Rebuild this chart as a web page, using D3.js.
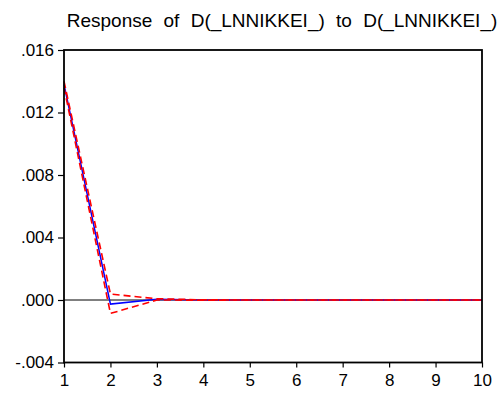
<!DOCTYPE html>
<html>
<head>
<meta charset="utf-8">
<script src="https://cdn.jsdelivr.net/npm/d3@7"></script>
<style>
  html, body { margin: 0; padding: 0; background: #fff; }
  svg { display: block; }
  text { font-family: "Liberation Sans", Arial, sans-serif; fill: #000; }
</style>
</head>
<body>
<svg id="chart" width="501" height="394"></svg>
<script>
// Impulse response of D(_LNNIKKEI_) to its own shock, with ±2 S.E. bands
const periods = [1, 2, 3, 4, 5, 6, 7, 8, 9, 10];
const response = [0.0138, -0.00026, 0.00004, 0.0, 0.0, 0.0, 0.0, 0.0, 0.0, 0.0];
const upperBand = [0.0140, 0.00038, 0.00008, 0.00001, 0.0, 0.0, 0.0, 0.0, 0.0, 0.0];
const lowerBand = [0.0136, -0.00086, 0.0, -0.00001, 0.0, 0.0, 0.0, 0.0, 0.0, 0.0];
const yTicks = [-0.004, 0.0, 0.004, 0.008, 0.012, 0.016];
const yTickLabels = ["-.004", ".000", ".004", ".008", ".012", ".016"];
const titleText = "Response of D(_LNNIKKEI_) to D(_LNNIKKEI_)";

const svg = d3.select("#chart");
const margin = { left: 64, right: 19, top: 50, bottom: 31.5 };
const W = 501, H = 394;

const x = d3.scaleLinear().domain([1, 10]).range([margin.left, W - margin.right]);
const y = d3.scaleLinear().domain([-0.004, 0.016]).range([H - margin.bottom, margin.top]);

// Title
svg.append("text")
  .attr("x", 282)
  .attr("y", 27)
  .attr("text-anchor", "middle")
  .style("font-size", "19px")
  .style("word-spacing", "6px")
  .text(titleText);

// Zero reference line
svg.append("line")
  .attr("x1", x(1)).attr("x2", x(10))
  .attr("y1", y(0)).attr("y2", y(0))
  .attr("stroke", "#000").attr("stroke-width", 1);

const line = d3.line().x((d, i) => x(periods[i])).y(d => y(d));

// Point estimate
svg.append("path")
  .datum(response)
  .attr("d", line)
  .attr("fill", "none")
  .attr("stroke", "#0000ff")
  .attr("stroke-width", 1.5);

// Confidence bands, dashed, drawn over the estimate
[upperBand, lowerBand].forEach(band => {
  svg.append("path")
    .datum(band)
    .attr("d", line)
    .attr("fill", "none")
    .attr("stroke", "#ff0000")
    .attr("stroke-width", 1.6)
    .attr("stroke-dasharray", "7,4");
});

// Frame
svg.append("rect")
  .attr("x", x(1)).attr("y", y(0.016))
  .attr("width", x(10) - x(1)).attr("height", y(-0.004) - y(0.016))
  .attr("fill", "none").attr("stroke", "#000").attr("stroke-width", 1.8);

// Axes
const yAxis = d3.axisLeft(y)
  .tickValues(yTicks)
  .tickFormat((d, i) => yTickLabels[i])
  .tickSize(6).tickPadding(4);
const gy = svg.append("g").attr("transform", `translate(${x(1)},0)`).call(yAxis);

const xAxis = d3.axisBottom(x)
  .tickValues(periods)
  .tickFormat(d3.format("d"))
  .tickSize(5).tickPadding(6);
const gx = svg.append("g").attr("transform", `translate(0,${y(-0.004)})`).call(xAxis);

[gx, gy].forEach(g => {
  g.select(".domain").remove();
  g.selectAll(".tick line").attr("stroke", "#000").attr("stroke-width", 1.2);
  g.selectAll(".tick text")
    .style("font-family", "'Liberation Sans', Arial, sans-serif")
    .style("font-size", "17px")
    .attr("fill", "#000");
});
</script>
</body>
</html>
